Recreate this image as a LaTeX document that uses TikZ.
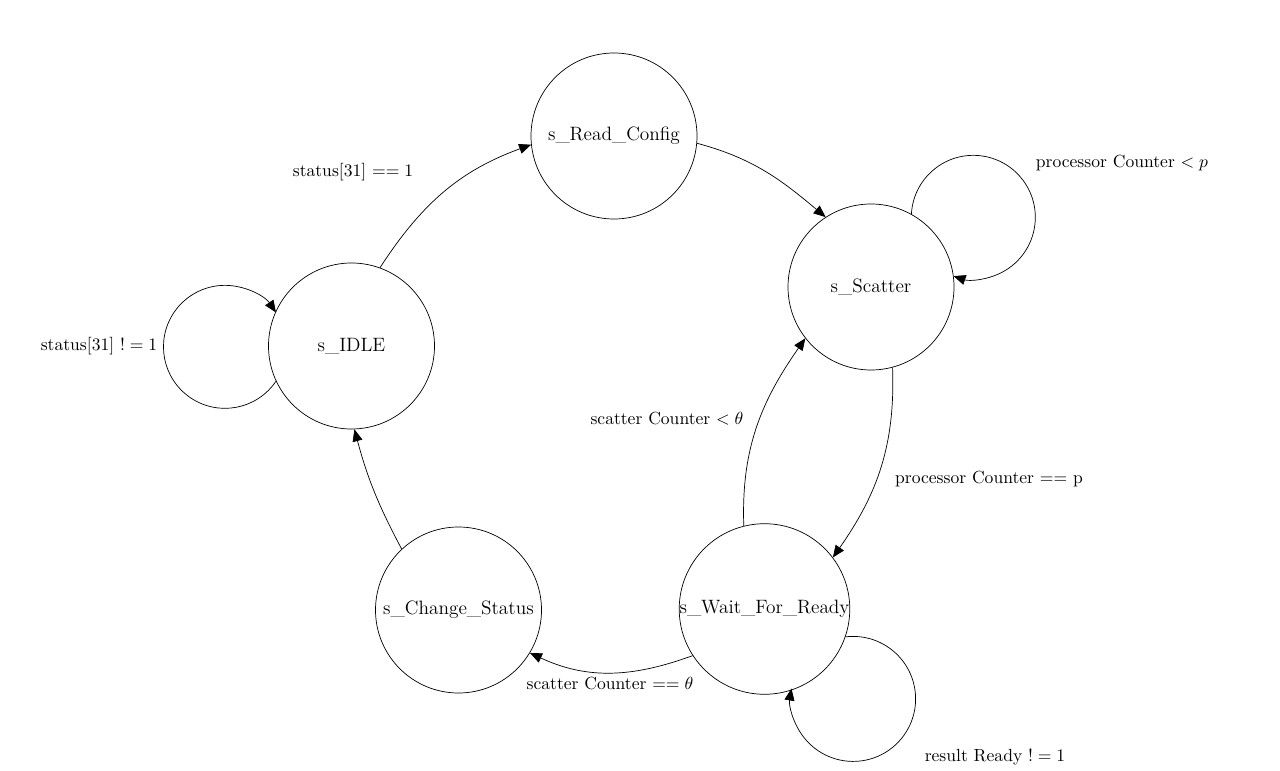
\documentclass[tikz,border=0pt]{standalone}
\usetikzlibrary{arrows.meta}
\tikzstyle{state} = [circle, draw, minimum size=3.32cm, inner sep=0pt, font=\fontsize{11}{13}\selectfont]
\tikzstyle{trans} = [-{Triangle[length=2.4mm,width=2mm]}]
\tikzstyle{cond} = [inner sep=1pt]

\begin{document}
\begin{tikzpicture}
\useasboundingbox (0,0) rectangle (25.6,-15.42);

% states
\node[state] (idle) at (7.03,-6.92) {s\_IDLE};
\node[state] (read) at (12.28,-2.72) {s\_Read\_Config};
\node[state] (scatter) at (17.42,-5.74) {s\_Scatter};
\node[state] (wait) at (15.29,-12.18) {s\_Wait\_For\_Ready};
\node[state] (change) at (9.17,-12.2) {s\_Change\_Status};

% transitions
\draw[trans] (idle.70) to[out=57,in=200] (read.186);
\draw[trans] (read.-5) to[out=-15,in=140] (scatter.123);
\draw[trans] (scatter.-75) to[out=-88,in=55] (wait.37);
\draw[trans] (wait.213) to[out=200,in=-25] (change.-31);
\draw[trans] (change.133) to[out=118,in=-75] (idle.-88);
\draw[trans] (wait.104) to[out=92,in=235] (scatter.218);

% self loops
\draw[trans] (idle.205) arc[start angle=-34, end angle=-326, radius=1.23];
\draw[trans] (scatter.61) arc[start angle=177, end angle=-108.6, radius=1.24];
\draw[trans] (wait.-19.6) arc[start angle=97, end angle=-189.6, radius=1.25];

% conditions
\node[cond] (c_start) at (7.06,-3.44) {status[31] $==1$};
\node[cond] (c_idle) at (1.98,-6.92) {status[31] $!=1$};
\node[cond] (c_proc) at (22.44,-3.26) {processor Counter $<p$};
\node[cond] (c_back) at (13.34,-8.38) {scatter Counter $<\theta$};
\node[cond] (c_done) at (19.78,-9.58) {processor Counter $==$ p};
\node[cond] (c_zero) at (12.2,-13.66) {scatter Counter $==\theta$};
\node[cond] (c_ready) at (19.9,-15.14) {result Ready $!=1$};

\end{tikzpicture}
\end{document}
